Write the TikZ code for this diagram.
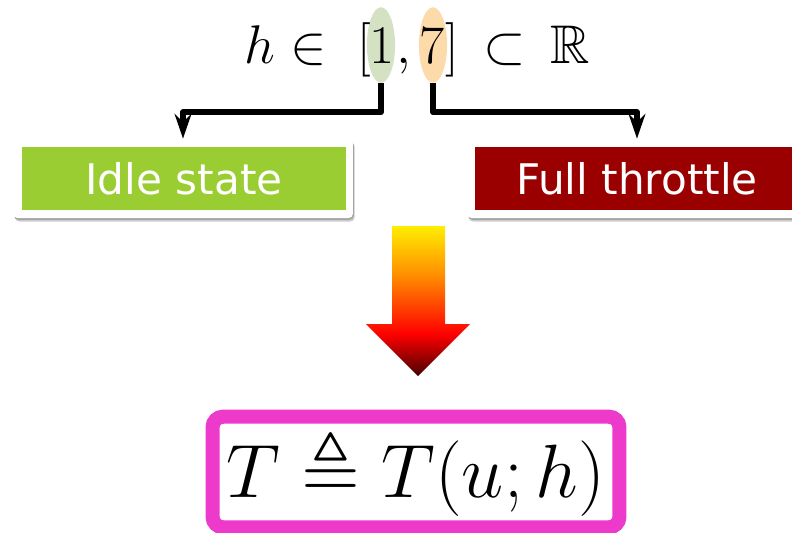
\documentclass[tikz,border=0pt]{standalone}
\usepackage{amsmath,amssymb}
\usepackage{fontspec}
\newfontfamily\labelfont{DejaVu Sans}
\usepackage{tikz}
\usetikzlibrary{arrows.meta,positioning,shapes.geometric,shadows}
\definecolor{sage}{HTML}{D5E1C3}
\definecolor{peach}{HTML}{FDDAA9}
\definecolor{idlegreen}{HTML}{9ACD32}
\definecolor{throttlered}{HTML}{9A0000}
\definecolor{hotpink}{HTML}{EE3ACB}
\definecolor{heatyellow}{HTML}{FFEE00}
\definecolor{heatorange}{HTML}{FF8A00}
\definecolor{heatred}{HTML}{FF0000}
\definecolor{heatdark}{HTML}{480000}
\pgfdeclareverticalshading{heatflow}{100bp}{color(0bp)=(heatdark); color(25bp)=(heatdark); color(39bp)=(heatred); color(58bp)=(heatorange); color(75bp)=(heatyellow); color(100bp)=(heatyellow)}
\newcommand{\rangemath}[1]{\scalebox{1.246}{$#1$}}
\newcommand{\modelmath}[1]{\scalebox{1.73}{$#1$}}

\begin{document}
\begin{tikzpicture}[x=0.02cm, y=-0.02cm,
    digit/.style={ellipse, inner sep=0pt, minimum width=16pt, minimum height=43pt},
    mathpiece/.style={inner sep=0pt, font=\Huge},
    panel/.style={fill=white, rounded corners=2.5pt, minimum width=193.5pt, minimum height=45pt,
        drop shadow={shadow xshift=1pt, shadow yshift=-2pt, opacity=0.2, fill=black},
        drop shadow={shadow xshift=0.5pt, shadow yshift=-1pt, opacity=0.2, fill=black}},
    state/.style={minimum width=184.4pt, minimum height=35.9pt, inner sep=0pt, text=white, font=\labelfont\fontsize{24}{28}\selectfont},
    link/.style={-{Stealth[length=14pt, width=9.5pt, inset=4.5pt]}, line width=3.4pt, line join=round},
    formula/.style={draw=hotpink, line width=8pt, fill=white, rounded corners=6pt, minimum width=231.6pt, minimum height=63pt, inner sep=0pt, font=\Huge}
]
\useasboundingbox (0,0) rectangle (792,532);

% Parameter range
\node[digit, fill=sage] (one) at (381,45) {};
\node[digit, fill=peach] (seven) at (433,45) {};
\node[mathpiece, anchor=base east] (lhs) at (371,63) {\rangemath{h\in\;[}};
\node[mathpiece, anchor=base] (lo) at (382,63) {\rangemath{1}};
\node[mathpiece, anchor=base] (comma) at (404,63) {\rangemath{,}};
\node[mathpiece, anchor=base] (hi) at (432,63) {\rangemath{7}};
\node[mathpiece, anchor=base west] (rhs) at (445.5,63) {\rangemath{]\,\subset\,\mathbb{R}}};

% States
\node[panel] (idlepanel) at (183,178.5) {};
\node[state, fill=idlegreen] (idle) at (184,178.5) {Idle state};
\node[panel] (fullpanel) at (637,178.5) {};
\node[state, fill=throttlered] (full) at (637,178.5) {Full throttle};

% Connecting lines
\draw[link] (one.south) -- ++(0,29) -| (idlepanel.north);
\draw[link] (seven.south) -- ++(0,29) -| (fullpanel.north);

% Big arrow
\shade[shading=heatflow] (392,226) -- (445,226) -- (445,324) -- (470,324) -- (418,376) -- (366,324) -- (392,324) -- cycle;

% Model
\node[formula] (model) at (416,472) {\modelmath{T\triangleq T(u;h)}};

\end{tikzpicture}
\end{document}
